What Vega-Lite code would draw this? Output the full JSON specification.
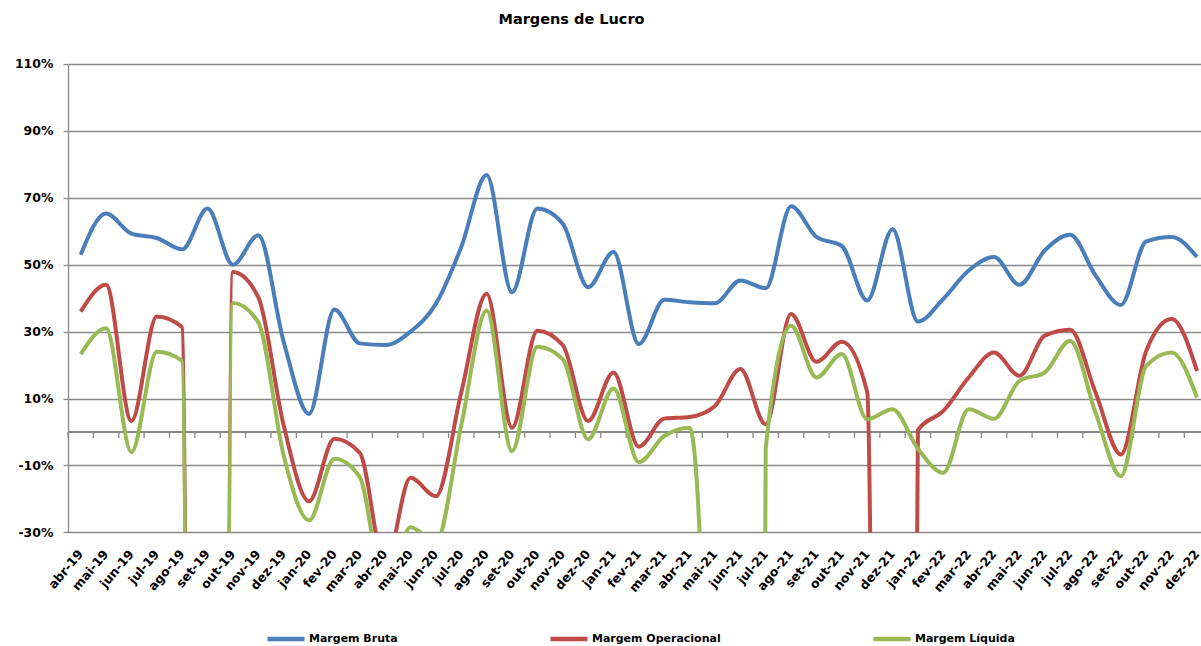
{
  "$schema": "https://vega.github.io/schema/vega-lite/v6.json",
  "width": 1133,
  "height": 468.4,
  "autosize": "none",
  "padding": {"left": 68, "top": 64, "right": 0, "bottom": 114},
  "background": "white",
  "config": {"font": "DejaVu Sans", "view": {"stroke": null}},
  "title": {"text": "Margens de Lucro", "font": "DejaVu Sans", "fontSize": 14.5, "fontWeight": "bold", "color": "black", "anchor": "middle", "frame": "group", "dx": -63, "offset": 19, "baseline": "alphabetic"},
  "data": {"values": [
    {"mes": "abr-19", "serie": "Margem Bruta", "valor": 53}, {"mes": "abr-19", "serie": "Margem Operacional", "valor": 36}, {"mes": "abr-19", "serie": "Margem Líquida", "valor": 23.3},
    {"mes": "mai-19", "serie": "Margem Bruta", "valor": 65.3}, {"mes": "mai-19", "serie": "Margem Operacional", "valor": 44}, {"mes": "mai-19", "serie": "Margem Líquida", "valor": 31},
    {"mes": "jun-19", "serie": "Margem Bruta", "valor": 59.3}, {"mes": "jun-19", "serie": "Margem Operacional", "valor": 3.3}, {"mes": "jun-19", "serie": "Margem Líquida", "valor": -6},
    {"mes": "jul-19", "serie": "Margem Bruta", "valor": 58}, {"mes": "jul-19", "serie": "Margem Operacional", "valor": 34.5}, {"mes": "jul-19", "serie": "Margem Líquida", "valor": 24},
    {"mes": "ago-19", "serie": "Margem Bruta", "valor": 54.6}, {"mes": "ago-19", "serie": "Margem Operacional", "valor": 31.3}, {"mes": "ago-19", "serie": "Margem Líquida", "valor": 21.3},
    {"mes": "set-19", "serie": "Margem Bruta", "valor": 66.8}, {"mes": "set-19", "serie": "Margem Operacional", "valor": -1500}, {"mes": "set-19", "serie": "Margem Líquida", "valor": -1500},
    {"mes": "out-19", "serie": "Margem Bruta", "valor": 50}, {"mes": "out-19", "serie": "Margem Operacional", "valor": 47.8}, {"mes": "out-19", "serie": "Margem Líquida", "valor": 38.6},
    {"mes": "nov-19", "serie": "Margem Bruta", "valor": 58.8}, {"mes": "nov-19", "serie": "Margem Operacional", "valor": 40.3}, {"mes": "nov-19", "serie": "Margem Líquida", "valor": 32.8},
    {"mes": "dez-19", "serie": "Margem Bruta", "valor": 27}, {"mes": "dez-19", "serie": "Margem Operacional", "valor": 2}, {"mes": "dez-19", "serie": "Margem Líquida", "valor": -7},
    {"mes": "jan-20", "serie": "Margem Bruta", "valor": 5.4}, {"mes": "jan-20", "serie": "Margem Operacional", "valor": -20.7}, {"mes": "jan-20", "serie": "Margem Líquida", "valor": -26.4},
    {"mes": "fev-20", "serie": "Margem Bruta", "valor": 36.6}, {"mes": "fev-20", "serie": "Margem Operacional", "valor": -2}, {"mes": "fev-20", "serie": "Margem Líquida", "valor": -8},
    {"mes": "mar-20", "serie": "Margem Bruta", "valor": 26.5}, {"mes": "mar-20", "serie": "Margem Operacional", "valor": -6.2}, {"mes": "mar-20", "serie": "Margem Líquida", "valor": -13.5},
    {"mes": "abr-20", "serie": "Margem Bruta", "valor": 26}, {"mes": "abr-20", "serie": "Margem Operacional", "valor": -40}, {"mes": "abr-20", "serie": "Margem Líquida", "valor": -48},
    {"mes": "mai-20", "serie": "Margem Bruta", "valor": 30}, {"mes": "mai-20", "serie": "Margem Operacional", "valor": -13.7}, {"mes": "mai-20", "serie": "Margem Líquida", "valor": -28.5},
    {"mes": "jun-20", "serie": "Margem Bruta", "valor": 38.3}, {"mes": "jun-20", "serie": "Margem Operacional", "valor": -19.2}, {"mes": "jun-20", "serie": "Margem Líquida", "valor": -33},
    {"mes": "jul-20", "serie": "Margem Bruta", "valor": 55.3}, {"mes": "jul-20", "serie": "Margem Operacional", "valor": 11.8}, {"mes": "jul-20", "serie": "Margem Líquida", "valor": 2},
    {"mes": "ago-20", "serie": "Margem Bruta", "valor": 76.8}, {"mes": "ago-20", "serie": "Margem Operacional", "valor": 41.3}, {"mes": "ago-20", "serie": "Margem Líquida", "valor": 36.3},
    {"mes": "set-20", "serie": "Margem Bruta", "valor": 41.8}, {"mes": "set-20", "serie": "Margem Operacional", "valor": 1.3}, {"mes": "set-20", "serie": "Margem Líquida", "valor": -5.7},
    {"mes": "out-20", "serie": "Margem Bruta", "valor": 66.8}, {"mes": "out-20", "serie": "Margem Operacional", "valor": 30.3}, {"mes": "out-20", "serie": "Margem Líquida", "valor": 25.5},
    {"mes": "nov-20", "serie": "Margem Bruta", "valor": 62.3}, {"mes": "nov-20", "serie": "Margem Operacional", "valor": 26}, {"mes": "nov-20", "serie": "Margem Líquida", "valor": 21.8},
    {"mes": "dez-20", "serie": "Margem Bruta", "valor": 43.3}, {"mes": "dez-20", "serie": "Margem Operacional", "valor": 3.3}, {"mes": "dez-20", "serie": "Margem Líquida", "valor": -2.2},
    {"mes": "jan-21", "serie": "Margem Bruta", "valor": 53.8}, {"mes": "jan-21", "serie": "Margem Operacional", "valor": 17.8}, {"mes": "jan-21", "serie": "Margem Líquida", "valor": 13},
    {"mes": "fev-21", "serie": "Margem Bruta", "valor": 26.3}, {"mes": "fev-21", "serie": "Margem Operacional", "valor": -4.4}, {"mes": "fev-21", "serie": "Margem Líquida", "valor": -9},
    {"mes": "mar-21", "serie": "Margem Bruta", "valor": 39.5}, {"mes": "mar-21", "serie": "Margem Operacional", "valor": 4}, {"mes": "mar-21", "serie": "Margem Líquida", "valor": -1.2},
    {"mes": "abr-21", "serie": "Margem Bruta", "valor": 38.8}, {"mes": "abr-21", "serie": "Margem Operacional", "valor": 4.5}, {"mes": "abr-21", "serie": "Margem Líquida", "valor": 1.3},
    {"mes": "mai-21", "serie": "Margem Bruta", "valor": 38.5}, {"mes": "mai-21", "serie": "Margem Operacional", "valor": 7.8}, {"mes": "mai-21", "serie": "Margem Líquida", "valor": -200},
    {"mes": "jun-21", "serie": "Margem Bruta", "valor": 45.3}, {"mes": "jun-21", "serie": "Margem Operacional", "valor": 18.8}, {"mes": "jun-21", "serie": "Margem Líquida", "valor": -1500},
    {"mes": "jul-21", "serie": "Margem Bruta", "valor": 43}, {"mes": "jul-21", "serie": "Margem Operacional", "valor": 2.3}, {"mes": "jul-21", "serie": "Margem Líquida", "valor": -5},
    {"mes": "ago-21", "serie": "Margem Bruta", "valor": 67.5}, {"mes": "ago-21", "serie": "Margem Operacional", "valor": 35.3}, {"mes": "ago-21", "serie": "Margem Líquida", "valor": 31.8},
    {"mes": "set-21", "serie": "Margem Bruta", "valor": 58.3}, {"mes": "set-21", "serie": "Margem Operacional", "valor": 21}, {"mes": "set-21", "serie": "Margem Líquida", "valor": 16.3},
    {"mes": "out-21", "serie": "Margem Bruta", "valor": 55.6}, {"mes": "out-21", "serie": "Margem Operacional", "valor": 27}, {"mes": "out-21", "serie": "Margem Líquida", "valor": 23.3},
    {"mes": "nov-21", "serie": "Margem Bruta", "valor": 39.3}, {"mes": "nov-21", "serie": "Margem Operacional", "valor": 12}, {"mes": "nov-21", "serie": "Margem Líquida", "valor": 3.8},
    {"mes": "dez-21", "serie": "Margem Bruta", "valor": 60.6}, {"mes": "dez-21", "serie": "Margem Operacional", "valor": -1000}, {"mes": "dez-21", "serie": "Margem Líquida", "valor": 6.8},
    {"mes": "jan-22", "serie": "Margem Bruta", "valor": 33}, {"mes": "jan-22", "serie": "Margem Operacional", "valor": 0.5}, {"mes": "jan-22", "serie": "Margem Líquida", "valor": -5},
    {"mes": "fev-22", "serie": "Margem Bruta", "valor": 39.8}, {"mes": "fev-22", "serie": "Margem Operacional", "valor": 6.3}, {"mes": "fev-22", "serie": "Margem Líquida", "valor": -12.2},
    {"mes": "mar-22", "serie": "Margem Bruta", "valor": 48.3}, {"mes": "mar-22", "serie": "Margem Operacional", "valor": 16.3}, {"mes": "mar-22", "serie": "Margem Líquida", "valor": 6.8},
    {"mes": "abr-22", "serie": "Margem Bruta", "valor": 52.3}, {"mes": "abr-22", "serie": "Margem Operacional", "valor": 23.8}, {"mes": "abr-22", "serie": "Margem Líquida", "valor": 4},
    {"mes": "mai-22", "serie": "Margem Bruta", "valor": 44}, {"mes": "mai-22", "serie": "Margem Operacional", "valor": 16.8}, {"mes": "mai-22", "serie": "Margem Líquida", "valor": 15.3},
    {"mes": "jun-22", "serie": "Margem Bruta", "valor": 54.3}, {"mes": "jun-22", "serie": "Margem Operacional", "valor": 28.8}, {"mes": "jun-22", "serie": "Margem Líquida", "valor": 17.8},
    {"mes": "jul-22", "serie": "Margem Bruta", "valor": 59}, {"mes": "jul-22", "serie": "Margem Operacional", "valor": 30.6}, {"mes": "jul-22", "serie": "Margem Líquida", "valor": 27.3},
    {"mes": "ago-22", "serie": "Margem Bruta", "valor": 46.8}, {"mes": "ago-22", "serie": "Margem Operacional", "valor": 11.8}, {"mes": "ago-22", "serie": "Margem Líquida", "valor": 5.8},
    {"mes": "set-22", "serie": "Margem Bruta", "valor": 38}, {"mes": "set-22", "serie": "Margem Operacional", "valor": -6.7}, {"mes": "set-22", "serie": "Margem Líquida", "valor": -13.2},
    {"mes": "out-22", "serie": "Margem Bruta", "valor": 57}, {"mes": "out-22", "serie": "Margem Operacional", "valor": 24.3}, {"mes": "out-22", "serie": "Margem Líquida", "valor": 19.8},
    {"mes": "nov-22", "serie": "Margem Bruta", "valor": 58.3}, {"mes": "nov-22", "serie": "Margem Operacional", "valor": 33.8}, {"mes": "nov-22", "serie": "Margem Líquida", "valor": 23.8},
    {"mes": "dez-22", "serie": "Margem Bruta", "valor": 52.3}, {"mes": "dez-22", "serie": "Margem Operacional", "valor": 18.3}, {"mes": "dez-22", "serie": "Margem Líquida", "valor": 10.3}
  ]},
  "layer": [
    {
      "mark": {"type": "rule", "color": "#898989", "strokeWidth": 1.3},
      "encoding": {"y": {"datum": 0, "type": "quantitative"}}
    },
    {
      "transform": [{"filter": "datum.serie == 'Margem Bruta'"}],
      "mark": {"type": "rule", "color": "#898989", "strokeWidth": 1.3},
      "encoding": {
        "x": {"field": "mes", "type": "ordinal", "sort": null, "bandPosition": 0,
              "scale": {"type": "band", "range": [0, 1141.7], "paddingInner": 0, "paddingOuter": 0},
              "axis": {"title": null, "labelAngle": -50, "labelAlign": "right", "labelBaseline": "middle", "labelFont": "DejaVu Sans", "labelFontSize": 12.5, "labelFontWeight": "bold", "labelColor": "black", "ticks": false, "domain": false, "grid": false, "labelPadding": 19, "labelOverlap": false}},
        "y": {"datum": 0, "type": "quantitative"},
        "y2": {"datum": -1.8}
      }
    },
    {
      "mark": {"type": "line", "interpolate": "monotone", "strokeWidth": 4, "clip": true},
      "encoding": {
        "x": {"field": "mes", "type": "ordinal", "sort": null, "bandPosition": 0.5,
              "scale": {"type": "band", "range": [0, 1141.7], "paddingInner": 0, "paddingOuter": 0},
              "axis": {"title": null, "labelAngle": -50, "labelAlign": "right", "labelBaseline": "middle", "labelFont": "DejaVu Sans", "labelFontSize": 12.5, "labelFontWeight": "bold", "labelColor": "black", "ticks": false, "domain": false, "grid": false, "labelPadding": 19, "labelOverlap": false}},
        "y": {"field": "valor", "type": "quantitative",
              "scale": {"domain": [-30, 110], "nice": false, "zero": false},
              "axis": {"title": null, "values": [-30, -10, 10, 30, 50, 70, 90, 110], "labelExpr": "datum.value + '%'", "grid": true, "gridColor": "#898989", "gridWidth": 1.3, "domainColor": "#898989", "domainWidth": 1.3, "tickColor": "#898989", "tickWidth": 1.3, "tickSize": 5, "labelPadding": 10, "labelFont": "DejaVu Sans", "labelFontSize": 12.5, "labelFontWeight": "bold", "labelColor": "black"}},
        "color": {"field": "serie", "type": "nominal",
                  "scale": {"domain": ["Margem Bruta", "Margem Operacional", "Margem Líquida"], "range": ["#4A7EBB", "#BE4B48", "#98B954"]},
                  "legend": {"title": null, "orient": "none", "legendX": 197, "legendY": 554, "direction": "horizontal", "symbolType": "stroke", "symbolSize": 1369, "symbolStrokeWidth": 4.5, "labelFont": "DejaVu Sans", "labelFontSize": 11, "labelFontWeight": "bold", "labelColor": "black", "columnPadding": 143, "labelOffset": 2, "labelLimit": 0}}
      }
    }
  ]
}
